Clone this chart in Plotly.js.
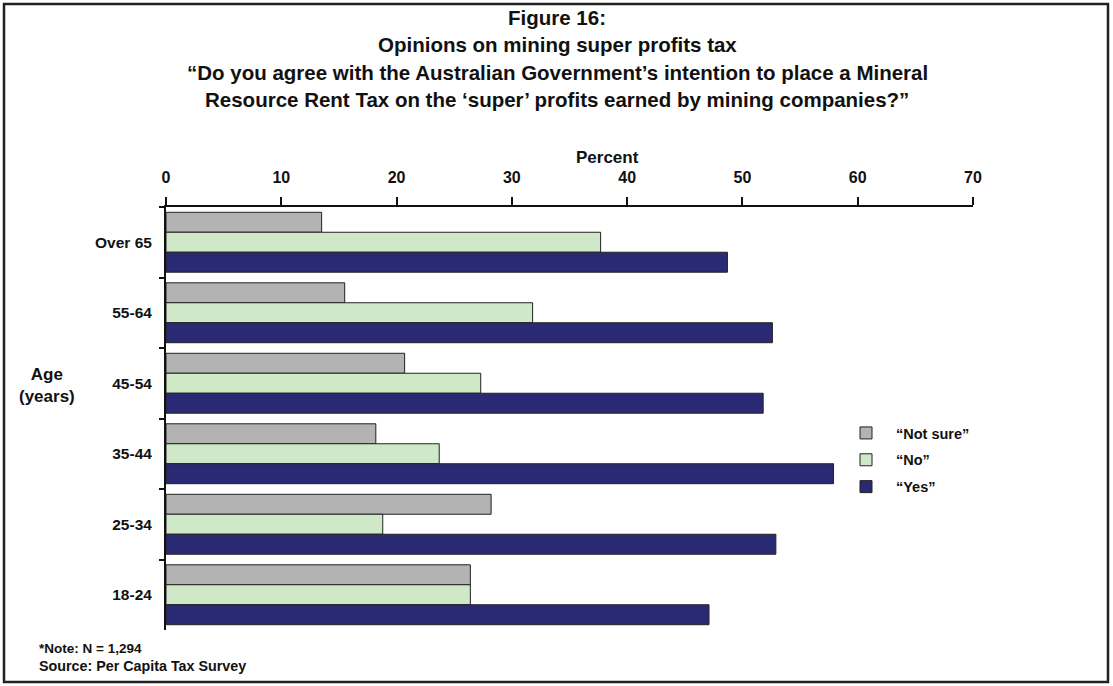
<!DOCTYPE html>
<html>
<head>
<meta charset="utf-8">
<script src="https://cdn.plot.ly/plotly-3.0.1.min.js"></script>
<style>html,body{margin:0;padding:0;background:#fff;}#chart{width:1113px;height:686px;}</style>
</head>
<body>
<div id="chart"></div>
<script>
const categories = ["Over 65", "55-64", "45-54", "35-44", "25-34", "18-24"];
const notSure = [13.5, 15.5, 20.7, 18.2, 28.2, 26.4];
const no = [37.7, 31.8, 27.3, 23.7, 18.8, 26.4];
const yes = [48.7, 52.6, 51.8, 57.9, 52.9, 47.1];
const seriesNames = ["\u201cNot sure\u201d", "\u201cNo\u201d", "\u201cYes\u201d"];
const xTicks = [0, 10, 20, 30, 40, 50, 60, 70];
const titleLines = [
  "Figure 16:",
  "Opinions on mining super profits tax",
  "\u201cDo you agree with the Australian Government\u2019s intention to place a Mineral",
  "Resource Rent Tax on the \u2018super\u2019 profits earned by mining companies?\u201d"
];

const W = 1113, H = 686;
const mL = 166, mR = W - 973, mT = 207, mB = H - 630;
const pw = W - mL - mR, ph = H - mT - mB;
const px = v => (v - mL) / pw;
const py = v => (H - mB - v) / ph;

const FAM = "Liberation Sans, Arial, sans-serif";
const font = {family: FAM, color: "#111"};
const colors = ["#b3b3b3", "#cfe8c8", "#2a2a74"];
const data = [notSure, no, yes].map((vals, i) => ({
  type: "bar", orientation: "h", name: seriesNames[i], legendgroup: "g" + i,
  y: categories, x: vals,
  marker: {color: colors[i], line: {color: "#222", width: 1}},
  hoverinfo: "x+name"
}));

const titleY = [17, 45, 72, 100];
const annotations = titleLines.map((t, i) => ({
  text: "<b>" + t + "</b>", xref: "paper", yref: "paper", x: px(557), y: py(titleY[i]),
  xanchor: "center", yanchor: "middle", showarrow: false,
  font: {family: FAM, size: 20.5, color: "#111"}
}));
annotations.push(
  {text: "<b>Percent</b>", xref: "paper", yref: "paper", x: px(607), y: py(157),
   xanchor: "center", yanchor: "middle", showarrow: false,
   font: {family: FAM, size: 17, color: "#111"}},
  {text: "<b>Age<br>(years)</b>", xref: "paper", yref: "paper", x: px(47), y: py(385),
   xanchor: "center", yanchor: "middle", showarrow: false,
   font: {family: FAM, size: 17, color: "#111"}},
  {text: "<b>*Note: N = 1,294</b>", xref: "paper", yref: "paper", x: px(37), y: py(648),
   xanchor: "left", yanchor: "middle", showarrow: false, align: "left",
   font: {family: FAM, size: 13.5, color: "#111"}},
  {text: "<b>Source: Per Capita Tax Survey</b>", xref: "paper", yref: "paper", x: px(37), y: py(666),
   xanchor: "left", yanchor: "middle", showarrow: false, align: "left",
   font: {family: FAM, size: 14.3, color: "#111"}}
);

const layout = {
  width: W, height: H,
  margin: {l: mL, r: mR, t: mT, b: mB},
  paper_bgcolor: "#fff", plot_bgcolor: "#fff",
  font: font,
  barmode: "group", bargap: 0.15, bargroupgap: 0,
  xaxis: {
    side: "top", range: [0, 70], tickvals: xTicks, ticktext: xTicks.map(String),
    showgrid: false, zeroline: false, showline: true, linecolor: "#111", linewidth: 2,
    ticks: "outside", ticklen: 8, tickwidth: 2, tickcolor: "#111",
    ticklabelstandoff: 8,
    tickfont: {family: FAM, size: 16, weight: "bold", color: "#111"},
    fixedrange: true
  },
  yaxis: {
    type: "category", autorange: "reversed",
    showgrid: false, zeroline: false, showline: true, linecolor: "#111", linewidth: 2,
    ticks: "outside", tickson: "boundaries", ticklen: 5, tickwidth: 2, tickcolor: "#111",
    ticklabelstandoff: 9,
    tickfont: {family: FAM, size: 15.5, weight: "bold", color: "#111"},
    fixedrange: true
  },
  showlegend: true,
  legend: {
    x: px(836), y: py(417), xanchor: "left", yanchor: "top",
    font: {family: FAM, size: 14.5, weight: "bold", color: "#111"},
    bgcolor: "rgba(0,0,0,0)", traceorder: "grouped", tracegroupgap: 5, itemwidth: 50
  },
  annotations: annotations,
  shapes: [
    {type: "rect", xref: "paper", yref: "paper", x0: px(4), x1: px(1108), y0: py(4), y1: py(682),
     line: {color: "#222", width: 2.5}, fillcolor: "rgba(0,0,0,0)"}
  ]
};

Plotly.newPlot("chart", data, layout, {displayModeBar: false, staticPlot: true});
</script>
</body>
</html>
